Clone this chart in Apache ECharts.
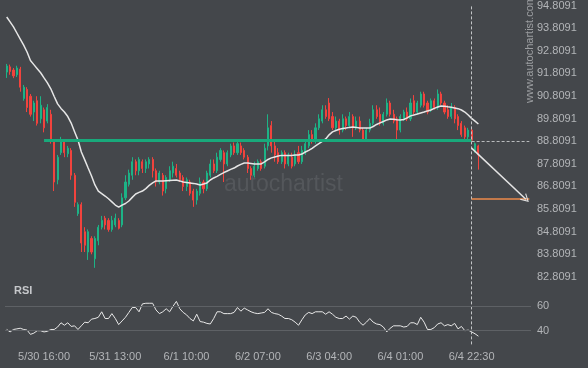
<!DOCTYPE html>
<html><head><meta charset="utf-8">
<script src="https://cdn.jsdelivr.net/npm/echarts@6/dist/echarts.min.js"></script>
<style>html,body{margin:0;padding:0;background:#44474b;}#c{width:588px;height:368px;}</style>
</head><body><div id="c"></div>
<script>
// [open, close, low, high] hourly candles
const candles = [
[91.87,92.14,91.61,92.23],[92.10,91.90,91.75,92.20],[91.96,91.70,91.60,92.05],[91.75,92.05,91.65,92.15],
[92.00,91.20,91.00,92.10],[90.70,91.20,90.60,91.30],[91.10,90.30,90.10,91.20],[90.80,90.00,89.90,90.90],
[90.10,90.50,89.70,90.60],[90.60,89.60,89.50,90.80],[89.80,90.40,89.60,90.80],[90.20,89.40,89.20,90.30],
[89.70,90.30,89.60,90.45],[90.00,88.80,88.70,90.20],[88.80,87.00,86.60,88.90],[87.10,88.10,86.90,88.20],
[88.30,88.80,88.20,89.00],[88.80,88.30,88.10,88.90],[88.25,88.50,88.10,88.60],[88.40,87.30,87.10,88.50],
[87.30,86.10,85.90,87.40],[85.60,86.00,85.50,86.10],[86.00,84.30,83.90,86.10],[84.80,84.20,83.90,85.00],
[83.90,84.80,83.55,84.90],[84.50,83.90,83.80,84.60],[83.60,84.50,83.20,84.60],[84.40,85.00,84.20,85.10],
[85.00,85.30,84.90,85.50],[85.40,85.10,84.90,85.50],[85.30,84.90,84.80,85.40],[84.90,85.30,84.80,85.50],
[85.10,85.40,85.00,85.60],[85.30,84.95,84.90,85.40],[85.10,86.30,85.00,86.50],[86.30,87.00,86.20,87.30],
[86.90,87.40,86.80,87.55],[87.30,87.90,87.10,88.10],[87.90,87.50,87.30,88.00],[87.50,88.00,87.30,88.10],
[87.90,87.60,87.40,88.00],[87.60,87.90,87.40,88.00],[87.80,88.00,87.60,88.10],[88.00,87.50,87.20,88.10],
[87.50,87.00,86.80,87.60],[87.00,87.40,86.90,87.50],[87.30,86.60,86.40,87.40],[86.70,87.20,86.50,87.30],
[87.10,87.50,87.00,87.70],[87.40,87.70,87.20,87.90],[87.60,87.30,87.20,87.80],[87.40,87.10,87.00,87.50],
[87.20,86.80,86.60,87.30],[86.80,87.10,86.60,87.20],[87.00,86.50,86.40,87.10],[86.60,86.20,85.90,86.70],
[86.20,86.60,86.00,86.70],[86.50,87.00,86.40,87.20],[87.00,86.70,86.50,87.10],[86.70,87.40,86.60,87.50],
[87.30,87.80,87.20,88.00],[87.80,87.50,87.40,88.00],[87.50,88.10,87.40,88.30],[88.00,88.40,87.90,88.50],
[88.30,87.80,87.00,88.40],[87.80,88.30,87.70,88.40],[88.20,88.60,88.10,88.70],[88.60,88.30,88.20,88.75],
[88.30,88.70,88.20,88.80],[88.60,88.30,88.20,88.75],[88.40,88.10,88.00,88.50],[88.10,87.60,87.40,88.20],
[87.60,87.30,87.10,87.70],[87.30,87.70,87.20,87.90],[87.60,87.90,87.50,88.00],[87.90,87.60,87.50,88.00],
[87.70,88.50,87.60,88.70],[88.60,89.40,88.40,90.00],[89.50,88.60,88.30,89.70],[88.60,88.20,87.90,88.80],
[88.30,87.90,87.80,88.50],[87.90,88.30,87.80,88.40],[88.30,87.80,87.60,88.40],[87.80,88.20,87.70,88.30],
[88.10,87.70,87.60,88.30],[87.80,88.20,87.70,88.40],[88.30,87.90,87.80,88.60],[87.90,88.40,87.80,88.60],
[88.30,88.70,88.20,88.90],[88.60,89.10,88.50,89.30],[89.10,88.80,88.70,89.30],[88.80,89.40,88.70,89.60],
[89.40,89.80,89.30,90.00],[89.70,90.20,89.60,90.40],[90.20,89.90,89.80,90.40],[90.50,89.80,89.70,90.72],
[89.90,89.40,89.30,90.10],[89.40,89.70,89.30,89.90],[89.70,89.30,89.10,89.80],[89.30,89.80,89.20,90.00],
[89.80,89.50,89.30,89.90],[89.50,89.90,89.40,90.10],[89.90,89.40,89.00,90.00],[89.40,89.70,89.30,89.90],
[89.70,89.30,89.20,89.90],[89.30,88.90,88.80,89.40],[88.90,89.30,88.85,89.40],[89.30,89.60,89.20,89.80],
[89.60,90.20,89.50,90.40],[90.20,89.90,89.80,90.40],[90.00,89.60,89.50,90.30],[89.60,90.00,89.50,90.10],
[90.00,90.50,89.90,90.70],[90.50,90.00,89.90,90.60],[90.00,89.70,89.60,90.20],[89.80,89.30,88.80,89.90],
[89.30,89.90,89.20,90.00],[89.80,90.10,89.70,90.20],[90.10,89.80,89.70,90.30],[89.80,90.50,89.70,90.70],
[90.60,90.10,90.00,90.85],[90.10,90.50,90.00,90.60],[90.40,90.90,90.30,91.00],[90.90,90.40,90.30,91.00],
[90.50,90.10,90.00,90.60],[90.20,90.60,90.10,90.70],[90.60,90.30,90.20,90.70],[90.30,90.90,90.20,91.10],
[90.90,90.50,90.40,91.00],[90.50,90.10,90.00,90.60],[90.20,89.90,89.80,90.40],[89.90,90.30,89.80,90.50],
[90.30,89.80,89.60,90.40],[89.90,89.50,89.30,90.00],[89.60,89.10,89.00,89.70],[89.40,89.00,88.90,89.50],
[89.00,89.30,88.90,89.40],[89.30,88.85,88.80,89.40],[88.35,88.70,88.30,88.75],[88.60,88.20,87.55,88.65]
];
const movingAverage = [
94.31,94.09,93.87,93.60,93.33,93.06,92.76,92.38,92.20,92.02,91.84,91.61,91.39,91.13,90.79,90.46,90.26,90.10,89.90,89.61,
89.23,88.86,88.33,87.98,87.62,87.27,86.87,86.60,86.49,86.38,86.26,86.12,85.98,85.89,85.98,86.05,86.16,86.32,86.47,86.54,
86.60,86.71,86.85,86.96,87.05,87.05,87.05,87.06,87.07,87.08,87.09,87.05,87.00,86.98,86.96,86.94,86.91,86.87,86.91,86.96,
87.09,87.18,87.25,87.34,87.42,87.49,87.56,87.62,87.71,87.78,87.84,87.84,87.82,87.80,87.80,87.80,87.89,88.00,88.07,88.11,
88.15,88.18,88.18,88.18,88.18,88.20,88.20,88.24,88.33,88.40,88.49,88.60,88.70,88.80,88.91,89.09,89.22,89.28,89.34,89.37,
89.39,89.42,89.44,89.42,89.39,89.39,89.39,89.39,89.46,89.55,89.62,89.68,89.75,89.79,89.78,89.76,89.75,89.77,89.84,89.93,
89.97,90.01,90.06,90.10,90.15,90.19,90.26,90.32,90.37,90.36,90.33,90.31,90.28,90.25,90.19,90.10,89.97,89.82,89.70,89.57
];
const rsiValues = [
41,39,41,41.5,42,41,40.5,37,38,40,40,39,39.5,41,41,43,46.5,44.5,46.5,43.5,
44,41,44,47,46.5,49.5,50,51,55.5,50,50,54,50,45,48,51,55,59,59,55.5,
62,62.5,62.5,62.5,57,54,55.5,58,55.5,60,64,58,55,53,50,48,53.5,47.5,47,46,
45.5,50,55.5,55.5,54,54,54,55,59,56,58.5,57,55.5,54.5,54,54.5,55,58,55,54,
53.5,52,50,50,49,47,44.5,49,53,55,54,55.5,55.5,55.5,53.5,55.5,53.5,51,50,50,
52,49.5,52,51,47,44.5,47,50,47,45.5,45,43,39,42,44,44,44,43,43.5,46.5,
46.5,45,51,47,41,41,42.5,45.5,46.5,44,45,44,46,41.5,43.5,40,40.5,39,37.5,35.5
];
const tickLabels = ['5/30 16:00','5/31 13:00','6/1 10:00','6/2 07:00','6/3 04:00','6/4 01:00','6/4 22:30'];
const firstTickIndex = 11, tickStep = 21, totalSlots = 155;
const nowIndex = 137, lastSlot = 154, arrowEndIndex = 153, supportStartIndex = 11;
const supportLevel = 88.84, currentLevel = 88.8091, arrowStartLevel = 88.5, targetLevel = 86.24;
const priceMin = 79.8091, priceMax = 94.8091, priceVisibleMin = 82.5;

const categories = [];
for (let i = 0; i < totalSlots; i++) categories.push(String(i));

const labelColor = '#b3b5b8';
const chevron = 'path://M0,10 L5,0 L10,10 L8.6,10 L5,2.6 L1.4,10 Z';
const chart = echarts.init(document.getElementById('c'), null, {renderer: 'canvas'});
chart.setOption({
  animation: false,
  backgroundColor: '#44474b',
  textStyle: {fontFamily: 'Liberation Sans, Arial, sans-serif'},
  grid: [
    {left: 5, right: 57, top: 5.7, height: 338.7},
    {left: 5, right: 57, top: 294.1, height: 48.8}
  ],
  xAxis: [
    {type: 'category', gridIndex: 0, data: categories, boundaryGap: true,
     axisLine: {show: false}, axisTick: {show: false}, splitLine: {show: false},
     axisLabel: {color: labelColor, fontSize: 11, margin: 7,
       interval: (idx) => idx >= firstTickIndex && (idx - firstTickIndex) % tickStep === 0,
       formatter: (v, idx) => tickLabels[(idx - firstTickIndex) / tickStep] || ''}},
    {type: 'category', gridIndex: 1, data: categories, boundaryGap: true, show: false}
  ],
  yAxis: [
    {type: 'value', gridIndex: 0, position: 'right', min: priceMin, max: priceMax, interval: 1,
     axisLine: {show: false}, axisTick: {show: false}, splitLine: {show: false},
     axisLabel: {color: labelColor, fontSize: 11, margin: 6,
       formatter: v => {
         if (v < priceVisibleMin) return '';
         const k = Math.round(v - priceMin);
         return (priceMin + k).toFixed(4);
       }}},
    {type: 'value', gridIndex: 1, position: 'right', min: 30, max: 70, interval: 10,
     axisLine: {show: false}, axisTick: {show: false}, splitLine: {show: false},
     axisLabel: {color: labelColor, fontSize: 11, margin: 6,
       formatter: v => (v === 40 || v === 60) ? String(v) : ''}}
  ],
  graphic: [
    {type: 'text', left: 224, top: 173, z: 0, style: {text: 'autochartist', fill: '#54575b', font: '23px Liberation Sans, Arial, sans-serif'}},
    {type: 'text', x: 524, y: 103, rotation: Math.PI / 2, z: 0, style: {text: 'www.autochartist.com', fill: '#9c9ea1', font: '11px Liberation Sans, Arial, sans-serif'}},
    {type: 'text', left: 14, top: 285, style: {text: 'RSI', fill: '#c6c8cb', font: 'bold 11px Liberation Sans, Arial, sans-serif'}}
  ],
  series: [
    {type: 'candlestick', xAxisIndex: 0, yAxisIndex: 0, data: candles, barWidth: 1.6,
     itemStyle: {color: '#1db386', color0: '#f2433d', borderColor: '#1db386', borderColor0: '#f2433d', borderWidth: 1},
     markLine: {silent: true, symbol: ['none', 'none'], label: {show: false},
       data: [
         [{coord: [supportStartIndex, supportLevel], lineStyle: {color: '#19a97b', width: 3, type: 'solid'}},
          {coord: [nowIndex, supportLevel]}],
         [{coord: [nowIndex, currentLevel], lineStyle: {color: '#b9bbbd', width: 1, type: [3, 2]}},
          {coord: [lastSlot, currentLevel]}],
         {xAxis: nowIndex, lineStyle: {color: '#c3c5c7', width: 1, type: [3, 2]}},
         [{coord: [nowIndex, targetLevel], lineStyle: {color: '#ee8a4a', width: 1.5, type: 'solid'}},
          {coord: [lastSlot, targetLevel]}],
         [{coord: [nowIndex, arrowStartLevel], symbol: 'none', lineStyle: {color: '#e4e4e4', width: 1.5, type: 'solid'}},
          {coord: [arrowEndIndex, targetLevel], symbol: chevron, symbolSize: [9, 8], itemStyle: {color: '#e4e4e4'}}]
       ]}},
    {type: 'line', xAxisIndex: 0, yAxisIndex: 0, data: movingAverage, showSymbol: false, smooth: false,
     lineStyle: {color: '#e6e6e6', width: 1.5}, z: 3},
    {type: 'line', xAxisIndex: 1, yAxisIndex: 1, data: rsiValues, showSymbol: false,
     lineStyle: {color: '#e8e8e8', width: 1},
     markLine: {silent: true, symbol: ['none', 'none'], label: {show: false},
       lineStyle: {color: '#5e6165', width: 1, type: 'solid'},
       data: [{yAxis: 60}, {yAxis: 40}]}}
  ]
});
</script></body></html>
